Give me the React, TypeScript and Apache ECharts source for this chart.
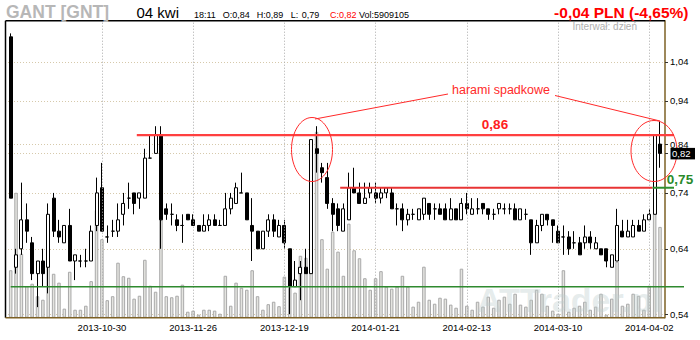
import React, { useEffect, useRef } from "react";
import * as echarts from "echarts";

const dates: string[] = [
  "2013-10-07","2013-10-08","2013-10-09","2013-10-10","2013-10-11","2013-10-14","2013-10-15","2013-10-16","2013-10-17","2013-10-18",
  "2013-10-21","2013-10-22","2013-10-23","2013-10-24","2013-10-25","2013-10-28","2013-10-29","2013-10-30","2013-10-31",
  "2013-11-04","2013-11-05","2013-11-06","2013-11-07","2013-11-08","2013-11-12","2013-11-13","2013-11-14","2013-11-15",
  "2013-11-18","2013-11-19","2013-11-20","2013-11-21","2013-11-22","2013-11-25","2013-11-26","2013-11-27","2013-11-28","2013-11-29",
  "2013-12-02","2013-12-03","2013-12-04","2013-12-05","2013-12-06","2013-12-09","2013-12-10","2013-12-11","2013-12-12","2013-12-13",
  "2013-12-16","2013-12-17","2013-12-18","2013-12-19","2013-12-20","2013-12-23","2013-12-27","2013-12-30",
  "2014-01-02","2014-01-03","2014-01-07","2014-01-08","2014-01-09","2014-01-10","2014-01-13","2014-01-14","2014-01-15","2014-01-16",
  "2014-01-17","2014-01-20","2014-01-21","2014-01-22","2014-01-23","2014-01-24","2014-01-27","2014-01-28","2014-01-29","2014-01-30","2014-01-31",
  "2014-02-03","2014-02-04","2014-02-05","2014-02-06","2014-02-07","2014-02-10","2014-02-11","2014-02-12","2014-02-13","2014-02-14",
  "2014-02-17","2014-02-18","2014-02-19","2014-02-20","2014-02-21","2014-02-24","2014-02-25","2014-02-26","2014-02-27","2014-02-28",
  "2014-03-03","2014-03-04","2014-03-05","2014-03-06","2014-03-07","2014-03-10","2014-03-11","2014-03-12","2014-03-13","2014-03-14",
  "2014-03-17","2014-03-18","2014-03-19","2014-03-20","2014-03-21","2014-03-24","2014-03-25","2014-03-26","2014-03-27","2014-03-28","2014-03-31",
  "2014-04-01","2014-04-02","2014-04-03","2014-04-04",
];

const opens: number[] = [
  1.11,0.61,0.64,0.69,0.65,0.60,0.62,0.61,0.73,0.67,
  0.65,0.68,0.62,0.62,0.62,0.62,0.68,0.75,0.66,0.67,
  0.67,0.70,0.73,0.74,0.73,0.73,0.81,0.82,0.86,0.71,
  0.70,0.69,0.68,0.70,0.69,0.68,0.67,0.68,0.69,0.68,
  0.68,0.71,0.72,0.74,0.74,0.68,0.67,0.64,0.67,0.69,
  0.66,0.68,0.64,0.58,0.60,0.61,0.60,0.83,0.79,0.77,
  0.72,0.71,0.67,0.69,0.75,0.74,0.72,0.74,0.74,0.73,
  0.74,0.74,0.71,0.71,0.69,0.70,0.69,0.70,0.72,0.71,
  0.71,0.71,0.69,0.71,0.69,0.72,0.70,0.71,0.72,0.71,
  0.70,0.71,0.71,0.71,0.71,0.69,0.70,0.69,0.65,0.68,
  0.70,0.69,0.67,0.66,0.66,0.65,0.65,0.65,0.66,0.64,
  0.64,0.64,0.61,0.62,0.67,0.66,0.66,0.68,0.67,0.69,
  0.70,0.84,
];

const closes: number[] = [
  0.73,0.63,0.69,0.67,0.60,0.62,0.60,0.70,0.67,0.66,
  0.68,0.62,0.63,0.62,0.62,0.67,0.74,0.67,0.66,0.67,
  0.69,0.72,0.73,0.72,0.74,0.81,0.81,0.86,0.69,0.70,
  0.70,0.68,0.68,0.69,0.68,0.67,0.68,0.69,0.68,0.68,
  0.71,0.73,0.75,0.74,0.69,0.67,0.64,0.67,0.69,0.67,
  0.68,0.65,0.58,0.59,0.61,0.60,0.85,0.82,0.78,0.72,
  0.70,0.68,0.71,0.75,0.74,0.72,0.73,0.75,0.73,0.74,
  0.75,0.71,0.71,0.69,0.70,0.70,0.71,0.73,0.70,0.71,
  0.70,0.69,0.71,0.69,0.72,0.71,0.71,0.71,0.71,0.70,
  0.70,0.72,0.71,0.71,0.69,0.71,0.70,0.65,0.68,0.70,
  0.69,0.68,0.65,0.66,0.64,0.65,0.63,0.66,0.65,0.65,
  0.63,0.62,0.63,0.68,0.66,0.67,0.68,0.67,0.69,0.70,
  0.86,0.82,
];

const lows: number[] = [
  0.73,0.60,0.63,0.65,0.59,0.55,0.58,0.57,0.66,0.65,
  0.65,0.62,0.59,0.61,0.61,0.62,0.67,0.67,0.65,0.66,
  0.66,0.68,0.71,0.70,0.71,0.73,0.81,0.82,0.64,0.69,
  0.68,0.67,0.65,0.69,0.68,0.67,0.67,0.67,0.68,0.68,
  0.68,0.70,0.72,0.74,0.69,0.62,0.64,0.64,0.66,0.66,
  0.66,0.64,0.54,0.58,0.56,0.60,0.60,0.78,0.76,0.71,
  0.67,0.67,0.67,0.69,0.74,0.72,0.72,0.73,0.72,0.72,
  0.73,0.71,0.68,0.67,0.68,0.69,0.69,0.69,0.69,0.69,
  0.70,0.69,0.69,0.69,0.69,0.70,0.70,0.70,0.70,0.69,
  0.69,0.70,0.70,0.70,0.69,0.69,0.69,0.63,0.65,0.67,
  0.68,0.65,0.65,0.63,0.63,0.64,0.63,0.64,0.64,0.64,
  0.63,0.61,0.61,0.62,0.66,0.66,0.66,0.67,0.67,0.69,
  0.70,0.79,
];

const highs: number[] = [
  1.12,0.64,0.76,0.72,0.66,0.62,0.64,0.72,0.74,0.69,
  0.68,0.71,0.63,0.63,0.64,0.68,0.77,0.80,0.68,0.69,
  0.72,0.74,0.76,0.74,0.74,0.83,0.86,0.88,0.88,0.72,
  0.72,0.70,0.70,0.70,0.70,0.68,0.70,0.70,0.70,0.69,
  0.74,0.74,0.76,0.78,0.74,0.73,0.67,0.67,0.70,0.70,
  0.69,0.69,0.64,0.62,0.62,0.64,0.85,0.88,0.80,0.80,
  0.73,0.72,0.72,0.78,0.79,0.76,0.76,0.76,0.76,0.75,
  0.75,0.75,0.72,0.72,0.71,0.71,0.71,0.73,0.72,0.72,
  0.72,0.72,0.73,0.71,0.73,0.74,0.73,0.73,0.72,0.71,
  0.71,0.72,0.72,0.72,0.72,0.71,0.71,0.69,0.69,0.70,
  0.70,0.69,0.68,0.68,0.67,0.67,0.66,0.68,0.67,0.66,
  0.64,0.64,0.63,0.71,0.69,0.69,0.69,0.69,0.70,0.71,
  0.86,0.89,
];

// volume in thousands of shares
const volumes: number[] = [
  3090,8130,4160,2050,2210,1400,1170,5430,2860,2280,
  590,2990,520,520,780,2380,7000,5110,1140,1400,
  3580,2700,2600,1240,1430,3770,2080,1690,6380,1400,
  1330,1430,2150,390,460,200,520,520,460,260,
  2730,780,2280,1950,1820,3090,1400,520,880,1040,
  750,2670,1950,1630,4030,3900,8460,12100,5110,3190,
  5600,4300,2730,6120,4390,3870,2570,1820,2570,3030,
  2020,1890,2020,2730,2020,720,1040,3320,1170,910,
  1300,1240,850,650,3190,780,520,1040,720,1370,
  650,1170,1370,910,1560,850,720,1170,1820,1560,
  780,460,260,3090,390,650,780,1040,520,720,
  1560,200,1240,3640,780,910,1560,1430,520,2080,
  6770,5909,
];

const dateTicks: string[] = ["2013-10-30","2013-11-26","2013-12-19","2014-01-21","2014-02-13","2014-03-10","2014-04-02"];
const priceTicks: number[] = [0.54, 0.64, 0.74, 0.84, 0.94, 1.04];
const lastPrice = 0.82;
const resistance = 0.86;
const support = 0.75;
const greenLevel = 0.58;

const FONT = '"Liberation Sans", Arial, sans-serif';
const fmt = (v: number) => v.toFixed(2).replace(".", ",");

export default function App() {
  const ref = useRef<HTMLDivElement>(null);

  useEffect(() => {
    document.body.style.margin = "0";
    const chart = echarts.init(ref.current!, null, { renderer: "svg" });
    const option: any = {
      animation: false,
      backgroundColor: "#ffffff",
      grid: { left: 8, right: 37.3, top: 20.7, bottom: 22.3, containLabel: false, outerBoundsMode: "none" },
      xAxis: {
        type: "category",
        data: dates,
        boundaryGap: true,
        axisLine: { show: false },
        axisTick: { show: false },
        splitLine: { show: false },
        axisLabel: {
          interval: (_i: number, v: string) => dateTicks.includes(v),
          fontSize: 9.5,
          fontFamily: FONT,
          color: "#000",
          margin: 5,
          hideOverlap: false,
        },
      },
      yAxis: [
        {
          type: "log",
          logBase: 10,
          position: "right",
          min: 0.5351,
          max: 1.1575,
          offset: 2.3,
          axisLine: { show: true, lineStyle: { color: "#7d6024", width: 1.5 } },
          axisTick: { show: true, length: 3, customValues: [...priceTicks, lastPrice], lineStyle: { color: "#333" } },
          axisLabel: { customValues: priceTicks, formatter: (v: number) => fmt(v), fontSize: 9.5, fontFamily: FONT, color: "#000", margin: 5 },
          splitLine: { show: true, lineStyle: { color: "#d6c9ab", type: [1, 2], width: 1 } },
        },
        { type: "value", min: 0, max: 19330, show: false },
      ],
      series: [
        {
          type: "bar",
          name: "vol",
          yAxisIndex: 1,
          data: volumes,
          barWidth: 3.5,
          z: 1,
          itemStyle: { color: "#e4e4e0", borderColor: "#a9a9a9", borderWidth: 1 },
          markLine: {
            silent: true,
            symbol: ["none", "none"],
            label: { show: false },
            lineStyle: { color: "#aaaaaa", type: [1, 2], width: 1 },
            data: dateTicks.map((d) => ({ xAxis: d })),
          },
        },
        {
          type: "candlestick",
          data: dates.map((_, i) => [opens[i], closes[i], lows[i], highs[i]]),
          barWidth: 3.5,
          z: 3,
          itemStyle: { color: "#ffffff", color0: "#000000", borderColor: "#000000", borderColor0: "#000000", borderWidth: 1 },
        },
      ],
    };
    chart.setOption(option);

    const xa = chart.convertToPixel({ xAxisIndex: 0 }, 0) as number;
    const xb = chart.convertToPixel({ xAxisIndex: 0 }, 1) as number;
    const xAt = (i: number) => xa + (xb - xa) * i;
    const yAt = (v: number) => chart.convertToPixel({ yAxisIndex: 0 }, v) as number;

    const L = 5.5, R = 665, T = 20.7, B = 317.7;
    const line = (x1: number, y1: number, x2: number, y2: number, stroke: string, lineWidth: number) => ({
      type: "line", z: 50, silent: true, shape: { x1, y1, x2, y2 }, style: { stroke, lineWidth },
    });
    const text = (x: number, y: number, t: string, fill: string, font: string, align = "left") => ({
      type: "text", z: 60, silent: true, x, y,
      style: { text: t, fill, font, textAlign: align, textVerticalAlign: "middle", align, verticalAlign: "middle" },
    });

    const yR = yAt(resistance), yS = yAt(support), yG = yAt(greenLevel), yP = yAt(lastPrice);
    const small = `9px ${FONT}`;
    const graphic: any[] = [
      // watermark
      { type: "text", z: 40, silent: true, x: 477, y: 317,
        style: { text: "ATTrader.pl", fill: "rgba(190,206,206,0.4)", font: `bold 34px ${FONT}`, textVerticalAlign: "bottom", verticalAlign: "bottom" } },
      // frame
      line(L, T, R, T, "#000", 1.5),
      line(L, T, L, B, "#000", 1.5),
      line(L, B, R, B, "#7d6024", 1.5),
      // levels
      line(xAt(23.5), yR, R + 9, yR, "#ff4040", 2.2),
      line(xAt(61.4), yS, xAt(119.6), yS, "#e83434", 2),
      line(xAt(119.6), yS, R + 9, yS, "#2f8f2f", 2),
      line(xAt(0), yG, R + 19, yG, "#2f8a2f", 1.6),
      // ellipses
      { type: "ellipse", z: 55, silent: true, shape: { cx: 312, cy: 149.5, rx: 20.5, ry: 32 }, style: { fill: "none", stroke: "#ff2a2a", lineWidth: 1 } },
      { type: "ellipse", z: 55, silent: true, shape: { cx: 654, cy: 151, rx: 23, ry: 30.5 }, style: { fill: "none", stroke: "#ff2a2a", lineWidth: 1 } },
      // connectors
      line(448, 94, 315, 119, "#ff2a2a", 1),
      line(555, 95.5, 660, 121, "#ff2a2a", 1),
      text(501, 90, "harami spadkowe", "#ff2a2a", `12.5px ${FONT}`, "center"),
      text(495, 124.5, fmt(resistance), "#ff2020", `bold 13.5px ${FONT}`, "center"),
      text(680, 179.5, fmt(support), "#2a8a2a", `bold 13.5px ${FONT}`, "center"),
      // last price tag
      { type: "rect", z: 58, silent: true, shape: { x: 670.5, y: yP - 5.5, width: 24.5, height: 11.5 }, style: { fill: "#000" } },
      text(672, yP + 0.5, fmt(lastPrice), "#ffffff", `9.5px ${FONT}`),
      // header
      text(6, 11.5, "GANT [GNT]", "#b7b7b7", `bold 17.5px ${FONT}`),
      text(136.5, 12.5, "04 kwi", "#000", `15px ${FONT}`),
      text(194, 14.5, "18:11", "#000", small),
      text(222.7, 14.5, "O:0,84", "#000", small),
      text(256.7, 14.5, "H:0,89", "#000", small),
      text(290.7, 14.5, "L:", "#000", small),
      text(301.7, 14.5, "0,79", "#000", small),
      text(330, 14.5, "C:0,82", "#ff0000", small),
      text(359, 14.5, "Vol:5909105", "#000", small),
      text(688.5, 12.5, "-0,04 PLN (-4,65%)", "#ff0000", `bold 15.5px ${FONT}`, "right"),
      text(572.5, 26.5, "Interwał: dzień", "#b0b0b0", `10px ${FONT}`),
    ];
    chart.setOption({ graphic });

    return () => chart.dispose();
  }, []);

  return <div ref={ref} style={{ width: 700, height: 340 }} />;
}
